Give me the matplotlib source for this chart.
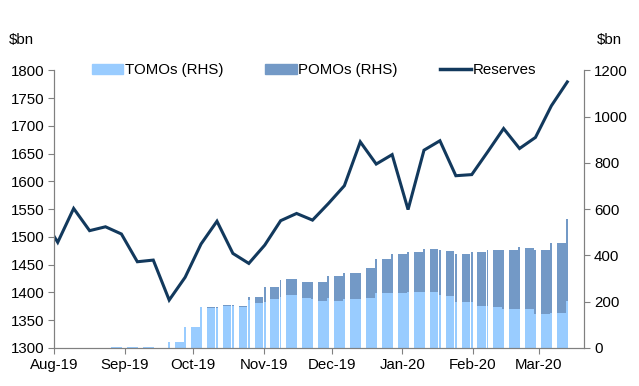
import matplotlib.pyplot as plt
import matplotlib.dates as mdates
import numpy as np
import pandas as pd

plt.rcParams['font.family'] = ['Liberation Sans', 'DejaVu Sans']
plt.rcParams['font.size'] = 10.8

# reserves, weekly ($bn, LHS)
res_dates = pd.date_range('2019-07-26 12:00', periods=34, freq='7D')
reserves = [1537, 1490, 1551, 1511, 1518, 1505, 1455, 1458, 1386, 1427,
            1487, 1528, 1470, 1452, 1485, 1529, 1542, 1530, 1560, 1592,
            1671, 1631, 1648, 1549, 1656, 1673, 1610, 1612, 1653, 1695,
            1659, 1679, 1736, 1779]

# repo operations, by week (Monday): Mon-Thu level and Friday value ($bn, RHS)
weeks = pd.date_range('2019-08-26', '2020-03-09', freq='7D')
tomo_main = [3, 3, 3, 0, 25, 88, 174, 180, 175, 192, 211, 227, 215, 202,
             203, 212, 214, 237, 236, 242, 241, 225, 198, 182, 176, 166,
             169, 144, 151]
pomo_main = [0, 0, 0, 0, 0, 0, 3, 5, 4, 27, 53, 69, 69, 82,
             107, 112, 132, 145, 169, 170, 186, 195, 207, 233, 247, 257,
             264, 279, 303]
tomo_fri = [3, 3, 3, 26, 88, 177, 174, 182, 205, 200, 220, 227, 212, 215,
            212, 212, 237, 236, 242, 241, 227, 199, 198, 180, 166, 166,
            144, 151, 202]
pomo_fri = [0, 0, 0, 0, 0, 0, 3, 5, 13, 64, 73, 69, 72, 95,
            112, 112, 145, 169, 170, 186, 195, 206, 217, 243, 257, 268,
            279, 303, 355]

tomo_col = '#99CCFF'
pomo_col = '#7399C6'
line_col = '#12395D'
grey = '#808080'

fig = plt.figure(figsize=(6.39, 3.86), dpi=100)
ax = fig.add_axes([0.085, 0.099, 0.8295, 0.719])
ax2 = ax.twinx()

mon = mdates.date2num(weeks)
fri = mon + 4
ax.bar(mon, tomo_main, width=3.85, align='edge', color=tomo_col, lw=0)
ax.bar(mon, pomo_main, bottom=tomo_main, width=3.85, align='edge', color=pomo_col, lw=0)
ax.bar(fri, tomo_fri, width=0.85, align='edge', color=tomo_col, lw=0)
ax.bar(fri, pomo_fri, bottom=tomo_fri, width=0.85, align='edge', color=pomo_col, lw=0)

ax2.plot(res_dates, reserves, color=line_col, lw=2.2, solid_joinstyle='miter')

ax.set_ylim(0, 1200)
ax.set_yticks(np.arange(0, 1201, 200))
ax.yaxis.tick_right()
ax2.set_ylim(1300, 1800)
ax2.set_yticks(np.arange(1300, 1801, 50))
ax2.yaxis.tick_left()

ax.set_xlim(pd.Timestamp('2019-08-01'), pd.Timestamp('2020-03-21'))
ax.xaxis.set_major_locator(mdates.MonthLocator())
ax.xaxis.set_major_formatter(mdates.DateFormatter('%b-%y'))

for a in (ax, ax2):
    a.spines['top'].set_visible(False)
    for s in ('left', 'right', 'bottom'):
        a.spines[s].set_color(grey)
    a.tick_params(color=grey, length=4, pad=3)

fig.text(0.034, 0.885, '$bn', ha='center')
fig.text(0.953, 0.885, '$bn', ha='center')

handles = [plt.Rectangle((0, 0), 1, 1, color=tomo_col),
           plt.Rectangle((0, 0), 1, 1, color=pomo_col),
           plt.Line2D([0], [0], color=line_col, lw=2.5)]
ax2.legend(handles, ['TOMOs (RHS)', 'POMOs (RHS)', 'Reserves'], ncol=3,
           loc='center', bbox_to_anchor=(0.49, 1.0), frameon=False,
           handlelength=2.1, handleheight=0.6, handletextpad=0.1,
           columnspacing=2.8)

fig.savefig('out.png', dpi=100)
